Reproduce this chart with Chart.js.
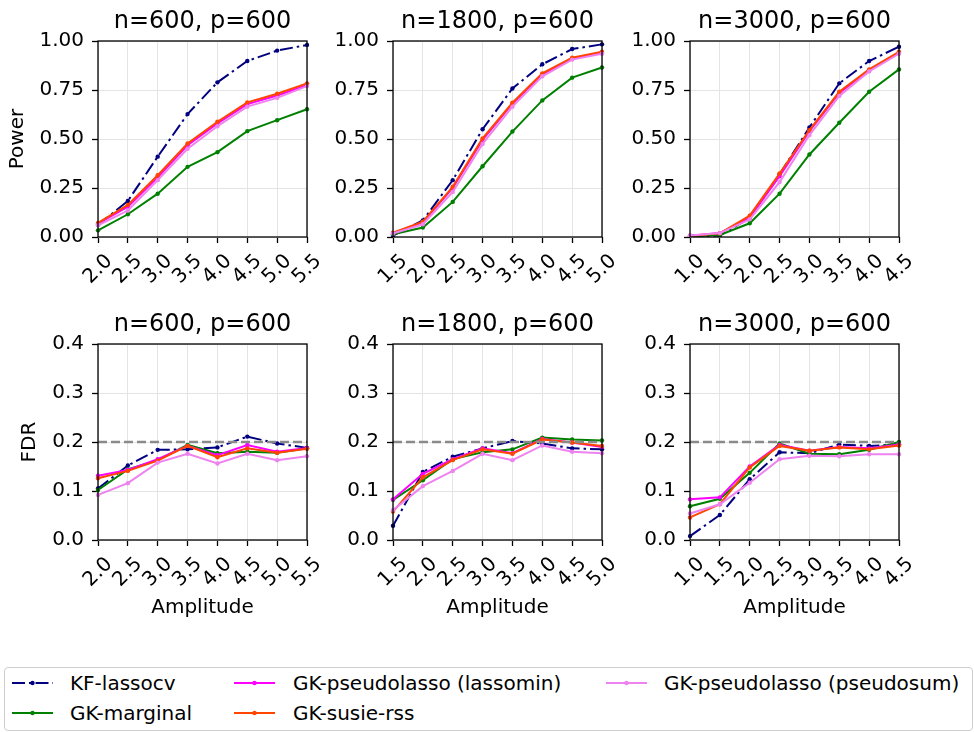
<!DOCTYPE html>
<html>
<head>
<meta charset="utf-8">
<script src="https://cdn.jsdelivr.net/npm/chart.js@4.4.1/dist/chart.umd.min.js"></script>
<style>
  body { margin: 0; width: 974px; height: 732px; position: relative; overflow: hidden; background: #fff; font-family: "DejaVu Sans", sans-serif; }
  canvas { position: absolute; }
  #legend { position: absolute; left: 4px; top: 667px; width: 967px; height: 62px; border: 1px solid #cfcfcf; border-radius: 4px; }
  .lg-text { position: absolute; font-size: 20px; line-height: 24px; white-space: nowrap; color: #000; }
  .lg-line { position: absolute; }
</style>
</head>
<body>
<div id="legend"></div>
<script>
// methods, in the order they were plotted
const methods = ['KF-lassocv', 'GK-marginal', 'GK-pseudolasso (lassomin)', 'GK-susie-rss', 'GK-pseudolasso (pseudosum)'];
const colors = ['#000080', '#008000', '#ff00ff', '#ff4500', '#ee82ee'];

// amplitude tick labels per n
const amp600 = ['2.0', '2.5', '3.0', '3.5', '4.0', '4.5', '5.0', '5.5'];
const amp1800 = ['1.5', '2.0', '2.5', '3.0', '3.5', '4.0', '4.5', '5.0'];
const amp3000 = ['1.0', '1.5', '2.0', '2.5', '3.0', '3.5', '4.0', '4.5'];

const powerTicks = [0, 0.25, 0.5, 0.75, 1.0];
const fdrTicks = [0, 0.1, 0.2, 0.3, 0.4];
const fdrLevel = 0.2;

// power, n=600
const kfPower600 = [0.062, 0.184, 0.41, 0.627, 0.789, 0.898, 0.951, 0.98];
const margPower600 = [0.034, 0.116, 0.221, 0.358, 0.433, 0.540, 0.596, 0.652];
const lminPower600 = [0.068, 0.155, 0.305, 0.468, 0.58, 0.678, 0.722, 0.775];
const susiePower600 = [0.072, 0.164, 0.315, 0.477, 0.588, 0.687, 0.731, 0.784];
const psumPower600 = [0.06, 0.135, 0.29, 0.45, 0.565, 0.665, 0.71, 0.77];

// power, n=1800
const kfPower1800 = [0.007, 0.085, 0.29, 0.55, 0.758, 0.881, 0.959, 0.983];
const margPower1800 = [0.014, 0.048, 0.179, 0.361, 0.538, 0.697, 0.813, 0.865];
const lminPower1800 = [0.02, 0.075, 0.25, 0.495, 0.68, 0.83, 0.91, 0.94];
const susiePower1800 = [0.022, 0.078, 0.256, 0.503, 0.685, 0.835, 0.915, 0.945];
const psumPower1800 = [0.018, 0.065, 0.23, 0.475, 0.665, 0.82, 0.905, 0.935];

// power, n=3000
const kfPower3000 = [0.0, 0.008, 0.097, 0.32, 0.559, 0.784, 0.898, 0.971];
const margPower3000 = [0.003, 0.01, 0.07, 0.221, 0.421, 0.583, 0.741, 0.855];
const lminPower3000 = [0.007, 0.02, 0.10, 0.31, 0.54, 0.735, 0.85, 0.94];
const susiePower3000 = [0.005, 0.019, 0.109, 0.324, 0.545, 0.741, 0.855, 0.945];
const psumPower3000 = [0.008, 0.02, 0.09, 0.28, 0.52, 0.72, 0.845, 0.935];

// fdr, n=600
const kfFdr600 = [0.105, 0.152, 0.184, 0.185, 0.189, 0.211, 0.197, 0.188];
const margFdr600 = [0.102, 0.144, 0.163, 0.194, 0.177, 0.18, 0.178, 0.187];
const lminFdr600 = [0.131, 0.143, 0.165, 0.192, 0.173, 0.194, 0.18, 0.188];
const susieFdr600 = [0.126, 0.141, 0.162, 0.192, 0.169, 0.187, 0.178, 0.186];
const psumFdr600 = [0.092, 0.116, 0.158, 0.176, 0.156, 0.176, 0.163, 0.171];

// fdr, n=1800
const kfFdr1800 = [0.029, 0.139, 0.170, 0.187, 0.202, 0.197, 0.187, 0.185];
const margFdr1800 = [0.082, 0.122, 0.165, 0.179, 0.185, 0.209, 0.205, 0.203];
const lminFdr1800 = [0.083, 0.135, 0.165, 0.187, 0.177, 0.206, 0.199, 0.19];
const susieFdr1800 = [0.058, 0.128, 0.163, 0.185, 0.176, 0.205, 0.199, 0.192];
const psumFdr1800 = [0.061, 0.11, 0.141, 0.176, 0.163, 0.193, 0.18, 0.177];

// fdr, n=3000
const kfFdr3000 = [0.008, 0.051, 0.124, 0.179, 0.177, 0.195, 0.192, 0.195];
const margFdr3000 = [0.069, 0.084, 0.137, 0.197, 0.176, 0.175, 0.184, 0.2];
const lminFdr3000 = [0.083, 0.087, 0.15, 0.194, 0.182, 0.19, 0.187, 0.195];
const susieFdr3000 = [0.046, 0.073, 0.148, 0.192, 0.182, 0.189, 0.185, 0.193];
const psumFdr3000 = [0.054, 0.073, 0.117, 0.165, 0.172, 0.171, 0.175, 0.175];

const panels = [
  { row: 0, col: 0, title: 'n=600, p=600', labels: amp600, series: [kfPower600, margPower600, lminPower600, susiePower600, psumPower600] },
  { row: 0, col: 1, title: 'n=1800, p=600', labels: amp1800, series: [kfPower1800, margPower1800, lminPower1800, susiePower1800, psumPower1800] },
  { row: 0, col: 2, title: 'n=3000, p=600', labels: amp3000, series: [kfPower3000, margPower3000, lminPower3000, susiePower3000, psumPower3000] },
  { row: 1, col: 0, title: 'n=600, p=600', labels: amp600, series: [kfFdr600, margFdr600, lminFdr600, susieFdr600, psumFdr600] },
  { row: 1, col: 1, title: 'n=1800, p=600', labels: amp1800, series: [kfFdr1800, margFdr1800, lminFdr1800, susieFdr1800, psumFdr1800] },
  { row: 1, col: 2, title: 'n=3000, p=600', labels: amp3000, series: [kfFdr3000, margFdr3000, lminFdr3000, susieFdr3000, psumFdr3000] }
];

const kfDash = [13, 4, 2.5, 4];
const font = 'DejaVu Sans';
Chart.defaults.font.family = font;
Chart.defaults.color = '#000';

const colLeft = [0, 300, 600];
const axisW = [98, 93, 90];
const canvasW = [327, 322, 319];
const rowTop = [0, 300];
const rowH = [300, 332];
const xAxisH = [63, 92];
const titlePadTop = [7, 10];

// frame, 0.2 reference line, and rotated amplitude labels
const panelDeco = {
  id: 'panelDeco',
  afterDatasetsDraw(chart, args, opts) {
    if (opts.level == null) return;
    const { ctx, chartArea: a, scales: { y } } = chart;
    const py = y.getPixelForValue(opts.level);
    ctx.save();
    ctx.strokeStyle = '#8a8a8a';
    ctx.lineWidth = 2.5;
    ctx.setLineDash([9, 4]);
    ctx.beginPath();
    ctx.moveTo(a.left, py);
    ctx.lineTo(a.right, py);
    ctx.stroke();
    ctx.restore();
  },
  afterDraw(chart, args, opts) {
    const { ctx, chartArea: a, scales: { x } } = chart;
    ctx.save();
    ctx.strokeStyle = '#000';
    ctx.lineWidth = 1.3;
    ctx.strokeRect(a.left, a.top, a.right - a.left, a.bottom - a.top);
    ctx.font = '20px "' + font + '"';
    ctx.fillStyle = '#000';
    ctx.textAlign = 'center';
    ctx.textBaseline = 'middle';
    const y0 = a.bottom + 6 + 7;
    opts.labels.forEach((lab, i) => {
      const px = x.getPixelForValue(i);
      const w = ctx.measureText(lab).width;
      const side = (w + 23) * Math.SQRT1_2;
      ctx.save();
      ctx.translate(px, y0 + side / 2);
      ctx.rotate(-Math.PI / 4);
      ctx.fillText(lab, 0, 0);
      ctx.restore();
    });
    ctx.restore();
  }
};

panels.forEach(p => {
  const cv = document.createElement('canvas');
  cv.width = canvasW[p.col];
  cv.height = rowH[p.row];
  cv.style.left = colLeft[p.col] + 'px';
  cv.style.top = rowTop[p.row] + 'px';
  document.body.appendChild(cv);

  const isPower = p.row === 0;
  const yTicks = isPower ? powerTicks : fdrTicks;

  new Chart(cv.getContext('2d'), {
    type: 'line',
    data: {
      labels: p.labels,
      datasets: p.series.map((vals, i) => ({
        label: methods[i],
        data: vals,
        borderColor: colors[i],
        backgroundColor: colors[i],
        borderWidth: 2,
        borderDash: i === 0 ? kfDash : [],
        pointRadius: 2.2,
        pointBorderWidth: 0,
        tension: 0,
        order: -i
      }))
    },
    options: {
      responsive: false,
      animation: false,
      layout: { padding: { left: 0, right: 20, top: 0, bottom: 0 } },
      plugins: {
        legend: { display: false },
        tooltip: { enabled: false },
        title: {
          display: true,
          text: p.title,
          fullSize: false,
          font: { size: 24, weight: 'normal' },
          color: '#000',
          padding: { top: titlePadTop[p.row], bottom: 5.2 }
        },
        panelDeco: { level: isPower ? null : fdrLevel, labels: p.labels }
      },
      scales: {
        x: {
          type: 'category',
          offset: false,
          ticks: { display: false },
          grid: { color: '#e4e4e4', lineWidth: 1, tickLength: 6, tickColor: '#000', tickWidth: 1.3 },
          border: { display: false },
          title: { display: !isPower, text: 'Amplitude', font: { size: 20 }, padding: { bottom: 12 } },
          afterFit: s => { s.height = xAxisH[p.row]; s.paddingLeft = 0; s.paddingRight = 0; }
        },
        y: {
          min: 0,
          max: isPower ? 1 : 0.4,
          afterBuildTicks: s => { s.ticks = yTicks.map(v => ({ value: v })); },
          ticks: { font: { size: 20 }, padding: 8, callback: v => v.toFixed(isPower ? 2 : 1) },
          grid: { color: '#e4e4e4', lineWidth: 1, tickLength: 6, tickColor: '#000', tickWidth: 1.3 },
          border: { display: false },
          title: { display: p.col === 0, text: isPower ? 'Power' : 'FDR', font: { size: 20 }, padding: { top: isPower ? 6 : 18 } },
          afterFit: s => { s.width = axisW[p.col]; s.paddingTop = 0; s.paddingBottom = 0; }
        }
      }
    },
    plugins: [panelDeco]
  });
});

// legend, three columns filled column by column
const legend = document.getElementById('legend');
const sampleX = [12, 234, 606];
const textX = [70, 293, 664];
const rowY = [683, 713];
methods.forEach((m, i) => {
  const col = Math.floor(i / 2), row = i % 2;
  const svg = document.createElementNS('http://www.w3.org/2000/svg', 'svg');
  svg.setAttribute('width', 42);
  svg.setAttribute('height', 10);
  svg.setAttribute('class', 'lg-line');
  svg.style.left = sampleX[col] + 'px';
  svg.style.top = (rowY[row] - 5) + 'px';
  svg.innerHTML = '<line x1="0" y1="5" x2="41" y2="5" stroke="' + colors[i] + '" stroke-width="2"' +
    (i === 0 ? ' stroke-dasharray="' + kfDash.join(' ') + '"' : '') + '/>' +
    '<circle cx="20.5" cy="5" r="2.2" fill="' + colors[i] + '"/>';
  document.body.appendChild(svg);
  const t = document.createElement('div');
  t.className = 'lg-text';
  t.textContent = m;
  t.style.left = textX[col] + 'px';
  t.style.top = (rowY[row] - 12) + 'px';
  document.body.appendChild(t);
});
</script>
</body>
</html>
